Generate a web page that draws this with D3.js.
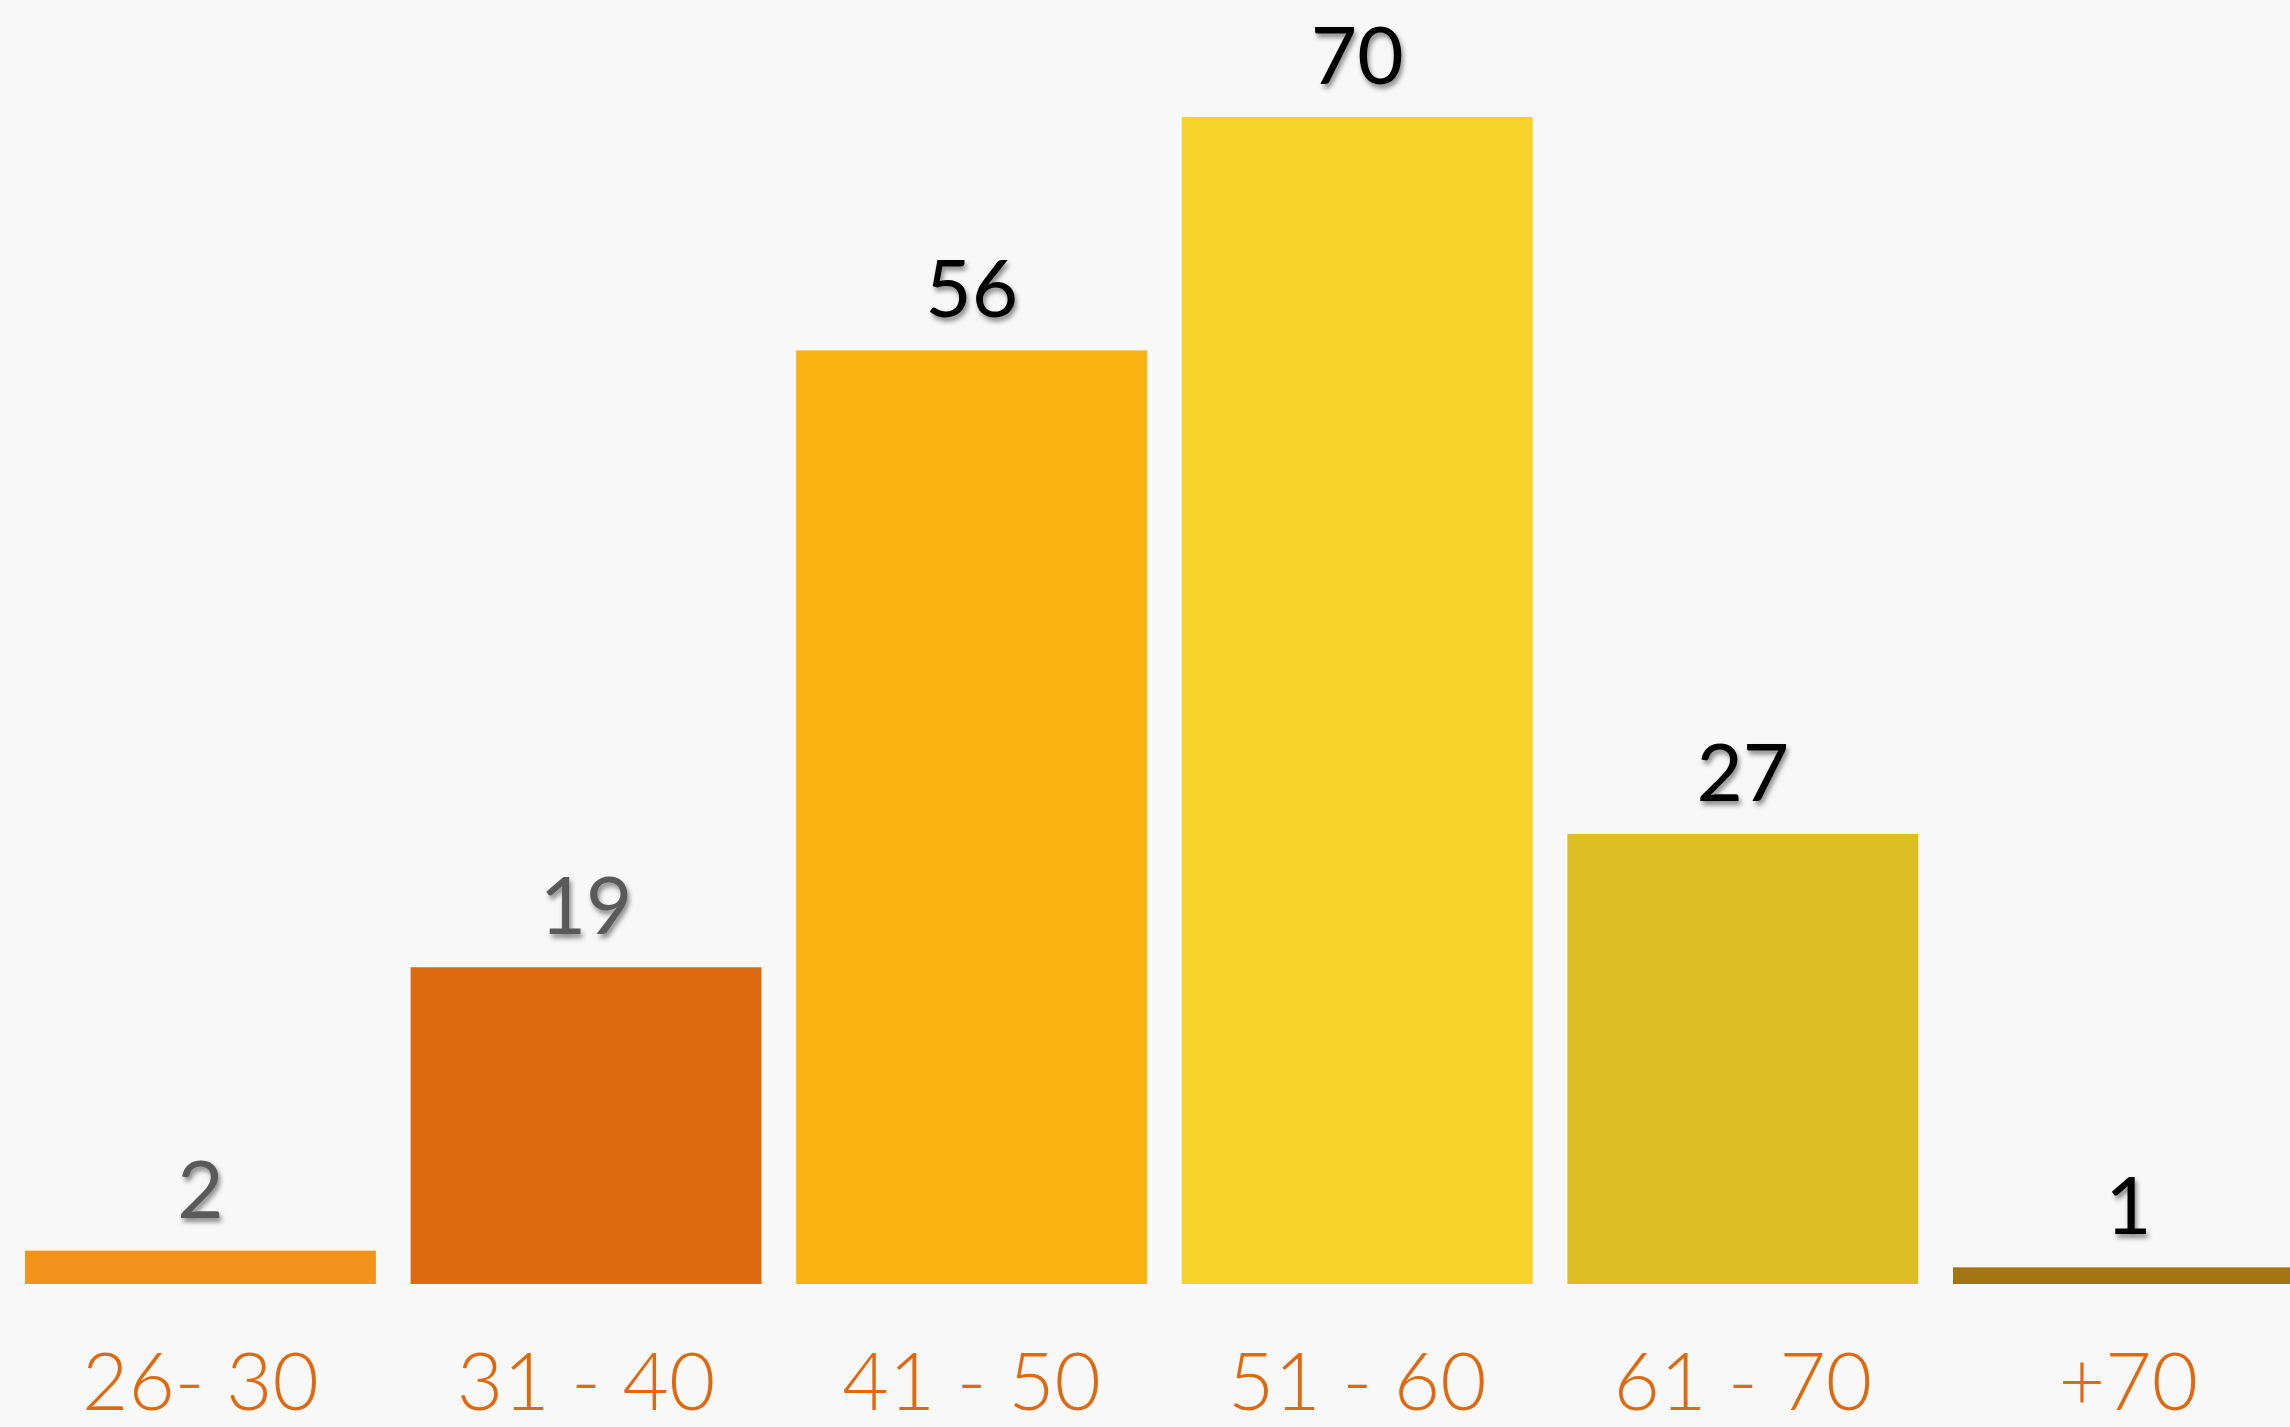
<!DOCTYPE html>
<html>
<head>
<meta charset="utf-8">
<script src="https://cdn.jsdelivr.net/npm/d3@7"></script>
<style>
  html, body { margin: 0; padding: 0; background: #f8f8f8; overflow: hidden; }
  .valor { font-family: Lato, 'Noto Sans', sans-serif; font-size: 80px; font-weight: 400; }
  .categoria { font-family: Lato, 'Noto Sans', sans-serif; font-size: 80px; font-weight: 300; fill: #dd6a10; }
</style>
</head>
<body>
<div id="graf"></div>
<script>
// I. Datos
categorias = ['26- 30', '31 - 40', '41 - 50', '51 - 60', '61 - 70', '+70']
valores    = [2, 19, 56, 70, 27, 1]
colores    = ['#f3931b', '#dd6a10', '#fbb313', '#f6d22a', '#dcbe24', '#a57413']
colorTexto = ['#5a5a5a', '#5a5a5a', '#000000', '#000000', '#000000', '#000000']

// II. Configuración
ancho_total = 2290
alto_total = 1427
base = 1284
paso = 385.6

svg = d3.select('#graf').append('svg')
        .attr('width', ancho_total)
        .attr('height', alto_total)
        .style('display', 'block')

svg.append('rect')
   .attr('width', ancho_total)
   .attr('height', alto_total)
   .attr('fill', '#f8f8f8')

// sombra de los números
defs = svg.append('defs')
defs.append('filter')
    .attr('id', 'sombra')
    .attr('x', '-20%').attr('y', '-20%')
    .attr('width', '140%').attr('height', '140%')
  .append('feDropShadow')
    .attr('dx', 2).attr('dy', 4)
    .attr('stdDeviation', 2.5)
    .attr('flood-color', '#000')
    .attr('flood-opacity', 0.45)

x = d3.scaleBand()
      .domain(categorias)
      .range([25, 25 + paso * (categorias.length - 0.09)])
      .paddingInner(0.09)
      .paddingOuter(0)

y = d3.scaleLinear()
      .domain([0, 70])
      .range([base, 117])

datos = categorias.map((c, i) => ({ cat: c, valor: valores[i], color: colores[i], texto: colorTexto[i] }))

// III. Barras
g = svg.append('g')

g.selectAll('rect.barra')
  .data(datos)
  .enter()
  .append('rect')
    .attr('class', 'barra')
    .attr('x', d => x(d.cat))
    .attr('y', d => y(d.valor))
    .attr('width', x.bandwidth())
    .attr('height', d => base - y(d.valor))
    .attr('fill', d => d.color)

// etiquetas de valor
g.selectAll('text.valor')
  .data(datos)
  .enter()
  .append('text')
    .attr('class', 'valor')
    .attr('x', d => x(d.cat) + x.bandwidth() / 2)
    .attr('y', d => y(d.valor) - 33)
    .attr('text-anchor', 'middle')
    .attr('fill', d => d.texto)
    .attr('filter', 'url(#sombra)')
    .text(d => d.valor)

// eje x (sin línea)
xAxisGroup = svg.append('g')
                .attr('transform', `translate(0, ${ base })`)
xAxisGroup.call(d3.axisBottom(x).tickSize(0).tickPadding(0))
xAxisGroup.select('.domain').remove()
xAxisGroup.selectAll('text')
          .attr('class', 'categoria')
          .attr('y', 126)
          .attr('dy', null)
          .attr('fill', '#dd6a10')
</script>
</body>
</html>
